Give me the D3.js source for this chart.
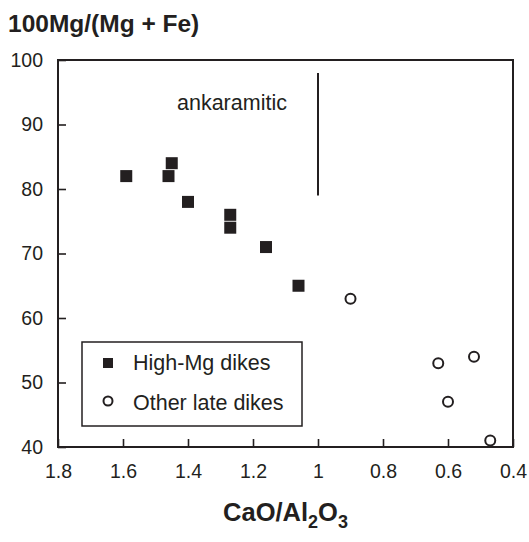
<!DOCTYPE html>
<html>
<head>
<meta charset="utf-8">
<script src="https://cdn.jsdelivr.net/npm/d3@7"></script>
<style>
  body { margin: 0; background: #fff; }
  svg { display: block; font-family: "Liberation Sans", Arial, Helvetica, sans-serif; }
</style>
</head>
<body>
<div id="chart"></div>
<script>
// data
const highMgX = [1.59, 1.46, 1.45, 1.40, 1.27, 1.27, 1.16, 1.06]
const highMgY = [82, 82, 84, 78, 76, 74, 71, 65]
const otherX = [0.90, 0.63, 0.52, 0.60, 0.47]
const otherY = [63, 53, 54, 47, 41]
const xTicks = [1.8, 1.6, 1.4, 1.2, 1, 0.8, 0.6, 0.4]
const yTicks = [40, 50, 60, 70, 80, 90, 100]
const boundaryX = 1
const boundaryY = [98, 79]
const legendLabels = ["High-Mg dikes", "Other late dikes"]

const width = 529,
    height = 542,
    ink = "#231f20"

const x = d3.scaleLinear().domain([1.8, 0.4]).range([58, 513])
const y = d3.scaleLinear().domain([40, 100]).range([447, 60])

const svg = d3.select("#chart")
    .append("svg")
    .attr("width", width)
    .attr("height", height)

// y title
svg.append("text")
    .attr("x", 8)
    .attr("y", 32)
    .style("font-size", "24.5px")
    .style("font-weight", "bold")
    .attr("fill", ink)
    .text("100Mg/(Mg + Fe)")

// axes, ticks pointing inward
svg.append("g")
    .attr("transform", `translate(0,${y(40)})`)
    .call(d3.axisBottom(x).tickValues(xTicks).tickSize(-8).tickPadding(17)
        .tickFormat(d => String(d)))
svg.append("g")
    .attr("transform", `translate(${x(1.8)},0)`)
    .call(d3.axisLeft(y).tickValues(yTicks).tickSize(-8).tickPadding(15))

svg.selectAll(".domain").remove()
svg.selectAll(".tick line").attr("stroke", ink).attr("stroke-width", 1.6)
svg.selectAll(".tick text")
    .attr("fill", ink)
    .style("font-size", "19.5px")
    .style("font-family", "'Liberation Sans', Arial, sans-serif")

// frame
svg.append("rect")
    .attr("x", x(1.8))
    .attr("y", y(100))
    .attr("width", x(0.4) - x(1.8))
    .attr("height", y(40) - y(100))
    .attr("fill", "none")
    .attr("stroke", ink)
    .attr("stroke-width", 2)

// ankaramitic boundary
svg.append("line")
    .attr("x1", x(boundaryX)).attr("x2", x(boundaryX))
    .attr("y1", y(boundaryY[0])).attr("y2", y(boundaryY[1]))
    .attr("stroke", ink)
    .attr("stroke-width", 2)

svg.append("text")
    .attr("x", 177)
    .attr("y", 110)
    .style("font-size", "21.5px")
    .attr("fill", ink)
    .text("ankaramitic")

// points
const sq = 12
svg.append("g")
    .selectAll("rect")
    .data(highMgX.map((d, i) => [d, highMgY[i]]))
    .join("rect")
    .attr("x", d => x(d[0]) - sq / 2)
    .attr("y", d => y(d[1]) - sq / 2)
    .attr("width", sq)
    .attr("height", sq)
    .attr("fill", ink)

svg.append("g")
    .selectAll("circle")
    .data(otherX.map((d, i) => [d, otherY[i]]))
    .join("circle")
    .attr("cx", d => x(d[0]))
    .attr("cy", d => y(d[1]))
    .attr("r", 5)
    .attr("fill", "#fff")
    .attr("stroke", ink)
    .attr("stroke-width", 2)

// legend
const legend = svg.append("g")
legend.append("rect")
    .attr("x", 82).attr("y", 342)
    .attr("width", 220).attr("height", 84)
    .attr("fill", "#fff")
    .attr("stroke", ink)
    .attr("stroke-width", 1.5)
legend.append("rect")
    .attr("x", 103).attr("y", 358)
    .attr("width", 10).attr("height", 10)
    .attr("fill", ink)
legend.append("circle")
    .attr("cx", 108).attr("cy", 401)
    .attr("r", 4.5)
    .attr("fill", "#fff")
    .attr("stroke", ink)
    .attr("stroke-width", 2)
legend.selectAll("text.lab")
    .data(legendLabels)
    .join("text")
    .attr("class", "lab")
    .attr("x", 133)
    .attr("y", (d, i) => 370 + i * 40)
    .style("font-size", "21.5px")
    .attr("fill", ink)
    .text(d => d)

// x title with subscripts
const xt = svg.append("text")
    .attr("x", x(1.1))
    .attr("y", 521)
    .attr("text-anchor", "middle")
    .style("font-size", "25.5px")
    .style("font-weight", "bold")
    .attr("fill", ink)
xt.append("tspan").text("CaO/Al")
xt.append("tspan").attr("dy", 7).style("font-size", "18px").text("2")
xt.append("tspan").attr("dy", -7).text("O")
xt.append("tspan").attr("dy", 7).style("font-size", "18px").text("3")
</script>
</body>
</html>
